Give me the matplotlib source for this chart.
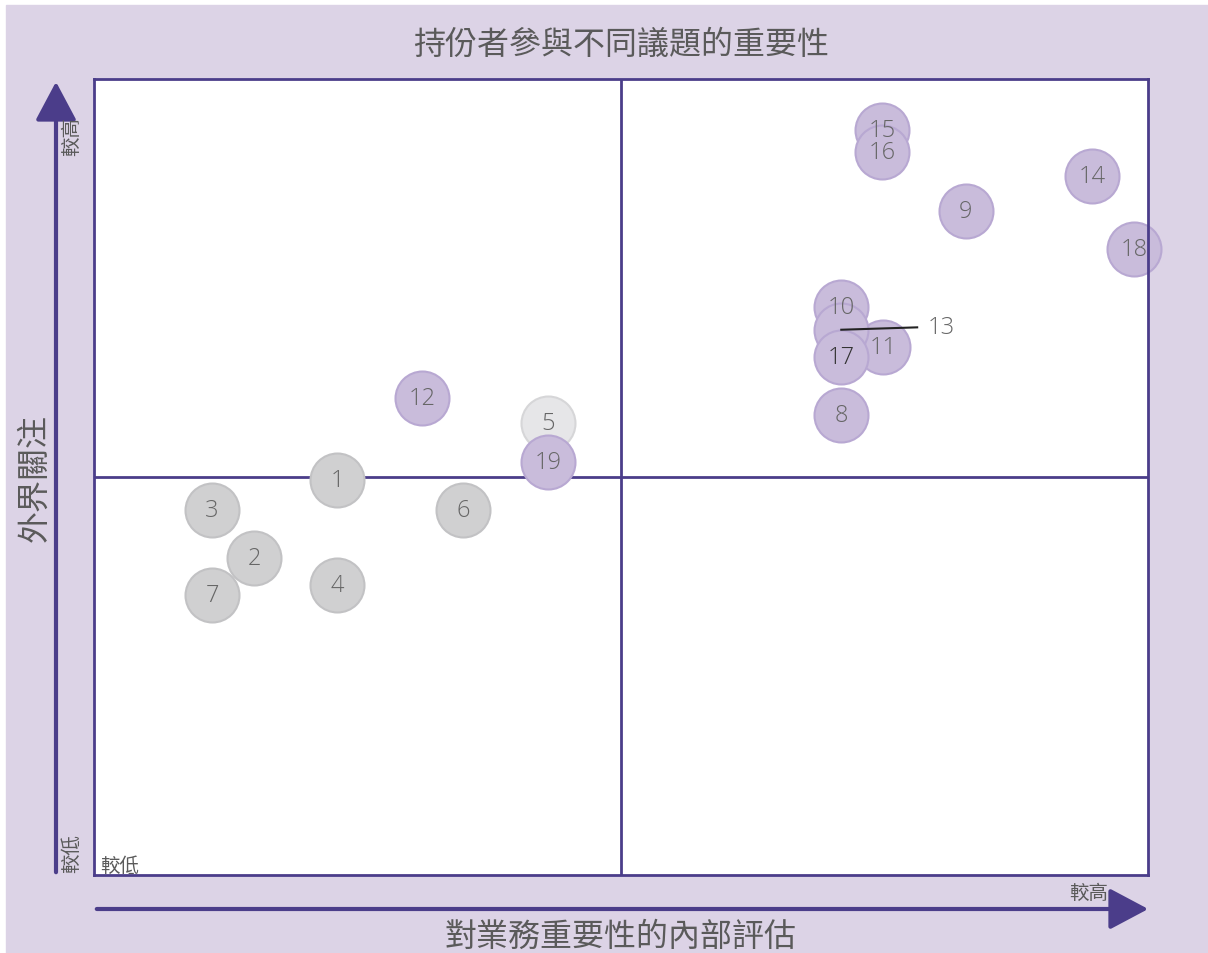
import matplotlib
matplotlib.use("Agg")
import matplotlib.pyplot as plt
from matplotlib.patches import Rectangle, FancyArrowPatch

plt.rcParams['font.family'] = ['Noto Sans CJK TC', 'DejaVu Sans']

# data (0-10 scale on both axes, midlines at 5)
ids = [1, 2, 3, 4, 5, 6, 7, 8, 9, 10, 11, 12, 13, 14, 15, 16, 17, 18, 19]
x_internal = [2.31, 1.52, 1.12, 2.31, 4.31, 3.50, 1.12, 7.09, 8.27, 7.09,
              7.49, 3.11, 7.09, 9.47, 7.48, 7.48, 7.09, 9.87, 4.31]
y_external = [4.96, 3.98, 4.59, 3.64, 5.68, 4.59, 3.52, 5.78, 8.34, 7.14,
              6.63, 5.99, 6.85, 8.78, 9.36, 9.08, 6.51, 7.86, 5.19]
group = ['g', 'g', 'g', 'g', 'l', 'g', 'g', 'p', 'p', 'p',
         'p', 'p', 'p', 'p', 'p', 'p', 'p', 'p', 'p']

title = "持份者參與不同議題的重要性"
xlabel = "對業務重要性的內部評估"
ylabel = "外界關注"
low, high = "較低", "較高"

fill = {'g': '#d0d0d1', 'l': '#e6e6e8', 'p': '#c9bcdb'}
edge = {'g': '#c2c2c4', 'l': '#d6d6d8', 'p': '#b8a8d2'}
purple = '#4b3d8a'
txt = '#5a5a5a'
num_font = ['Open Sans', 'DejaVu Sans']

W, H = 1208, 954
fig = plt.figure(figsize=(W / 100, H / 100), dpi=100)
fig.patches.append(Rectangle((6 / W, 0), 1 - 6 / W, 1 - 6 / H,
                             transform=fig.transFigure, color='#dcd3e6', zorder=-10))

# plot area in pixels: x 94..1148, y 80..876 (from top)
ax = fig.add_axes([94 / W, 1 - 876 / H, (1148 - 94) / W, (876 - 80) / H])
ax.set_facecolor('white')
ax.set_xlim(0, 10)
ax.set_ylim(0, 10)
ax.set_xticks([])
ax.set_yticks([])
for s in ax.spines.values():
    s.set_color(purple)
    s.set_linewidth(2)
ax.axvline(5, color=purple, lw=2, zorder=1)
ax.axhline(5, color=purple, lw=2, zorder=1)

for i in range(len(ids)):
    g = group[i]
    ax.scatter(x_internal[i], y_external[i], s=1510, c=fill[g], edgecolors=edge[g],
               linewidths=1.5, zorder=2 + i * 0.01, clip_on=False)
    if ids[i] == 13:
        continue
    col = '#333333' if ids[i] == 17 else '#666666'
    ax.text(x_internal[i], y_external[i], str(ids[i]), ha='center', va='center',
            fontsize=17, color=col, zorder=5, family=num_font, fontweight='light')

# callout for 13
i13 = ids.index(13)
ax.plot([x_internal[i13], x_internal[i13] + 0.72], [y_external[i13], y_external[i13] + 0.03],
        color='#222222', lw=1.5, zorder=4)
ax.text(x_internal[i13] + 0.82, y_external[i13] + 0.03, "13", ha='left', va='center',
        fontsize=17, color='#666666', family=num_font, fontweight='light')

# axis arrows
fig.add_artist(FancyArrowPatch(
    (56 / W, 1 - 876 / H), (56 / W, 1 - 80 / H), transform=fig.transFigure,
    arrowstyle='-|>,head_length=1.6,head_width=0.85', mutation_scale=15,
    color=purple, lw=3))
fig.add_artist(FancyArrowPatch(
    (94 / W, 1 - 910 / H), (1151 / W, 1 - 910 / H), transform=fig.transFigure,
    arrowstyle='-|>,head_length=1.6,head_width=0.85', mutation_scale=15,
    color=purple, lw=3))

fig.text(621 / W, 1 - 45 / H, title, ha='center', va='center', fontsize=23,
         color=txt, fontweight='light')
fig.text(621 / W, 1 - 937 / H, xlabel, ha='center', va='center', fontsize=23,
         color=txt, fontweight='light')
fig.text(35 / W, 1 - 478 / H, ylabel, ha='center', va='center', fontsize=23,
         color=txt, rotation=90, fontweight='light')

fig.text(72 / W, 1 - 117 / H, high, ha='center', va='top', fontsize=14,
         color=txt, rotation=90, fontweight='light')
fig.text(72 / W, 1 - 873 / H, low, ha='center', va='bottom', fontsize=14,
         color=txt, rotation=90, fontweight='light')
fig.text(100 / W, 1 - 866 / H, low, ha='left', va='center', fontsize=14,
         color=txt, fontweight='light')
fig.text(1108 / W, 1 - 893 / H, high, ha='right', va='center', fontsize=14,
         color=txt, fontweight='light')

fig.savefig('out.png', dpi=100)
